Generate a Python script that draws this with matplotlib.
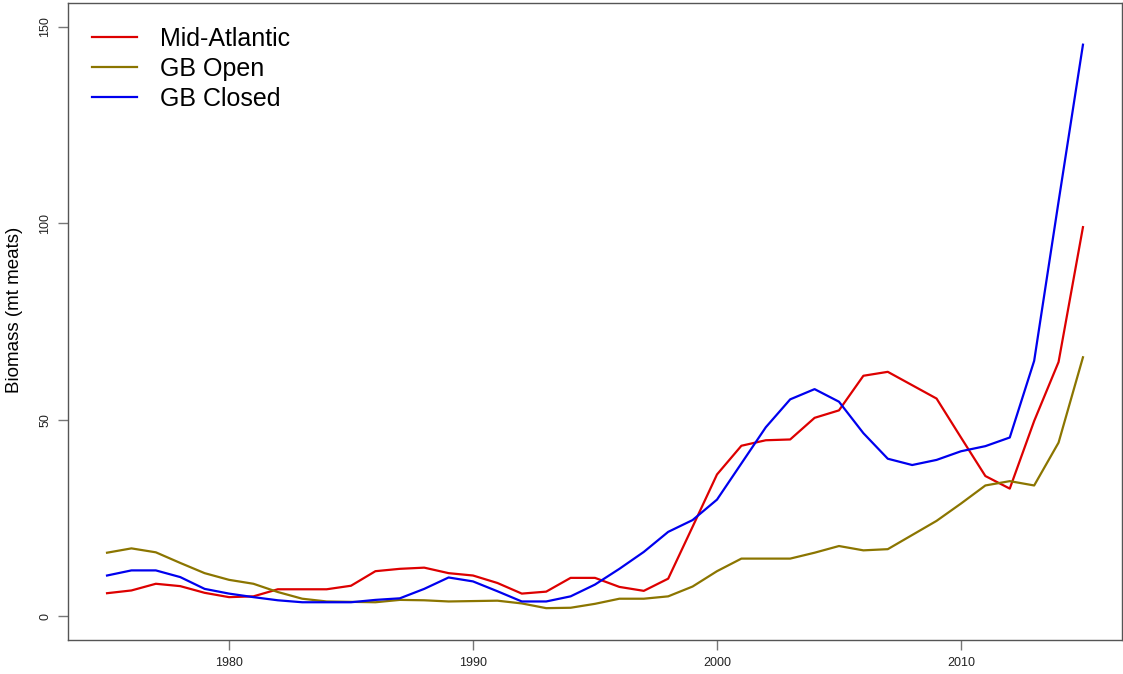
import matplotlib
matplotlib.use("Agg")
import matplotlib.pyplot as plt
import numpy as np

plt.rcParams['font.family'] = ['Liberation Sans', 'DejaVu Sans']

years = list(range(1975, 2016))

mid_atlantic = [5.9, 6.6, 8.3, 7.7, 6.0, 4.9, 5.1, 6.9, 6.9, 6.9,
                7.8, 11.5, 12.1, 12.4, 11.0, 10.4, 8.5, 5.8, 6.3, 9.8,
                9.8, 7.5, 6.5, 9.6, 22.8, 36.1, 43.4, 44.8, 45.0, 50.5,
                52.4, 61.2, 62.2, 58.8, 55.4, 45.5, 35.7, 32.5, 49.7, 64.7,
                99.0]

gb_open = [16.2, 17.3, 16.3, 13.6, 11.0, 9.3, 8.3, 6.2, 4.5, 3.8,
           3.7, 3.6, 4.2, 4.1, 3.8, 3.9, 4.0, 3.3, 2.1, 2.2,
           3.2, 4.5, 4.5, 5.1, 7.6, 11.5, 14.7, 14.7, 14.7, 16.2,
           17.9, 16.8, 17.1, 20.7, 24.3, 28.7, 33.3, 34.4, 33.3, 44.2,
           65.9]

gb_closed = [10.4, 11.7, 11.7, 10.0, 7.0, 5.8, 4.9, 4.1, 3.6, 3.6,
             3.6, 4.2, 4.6, 7.0, 9.9, 8.9, 6.4, 3.8, 3.8, 5.1,
             8.1, 12.1, 16.4, 21.5, 24.5, 29.7, 38.9, 48.1, 55.2, 57.8,
             54.6, 46.6, 40.1, 38.5, 39.8, 42.0, 43.3, 45.5, 65.0, 105.5,
             145.4]

series_names = ["Mid-Atlantic", "GB Open", "GB Closed"]
series_colors = ["#DD0000", "#8B7500", "#0000EE"]

x_ticks = [1980, 1990, 2000, 2010]
y_ticks = [0, 50, 100, 150]

W, H = 1123, 674
fig = plt.figure(figsize=(W / 100, H / 100), dpi=100)
ax_left, ax_bottom = 68, 34
ax_w, ax_h = 1122 - 68, 640 - 3
ax = fig.add_axes([ax_left / W, ax_bottom / H, ax_w / W, ax_h / H])

for vals, name, col in zip([mid_atlantic, gb_open, gb_closed], series_names, series_colors):
    ax.plot(years, vals, color=col, lw=1.6, label=name)

ax.set_xlim(1975 - 1.6, 2015 + 1.6)
ax.set_ylim(-6, 156)
ax.set_xticks(x_ticks)
ax.set_yticks(y_ticks)
ax.set_xticklabels([str(t) for t in x_ticks], fontsize=9, color="#222222")
ax.set_yticklabels([str(t) for t in y_ticks], fontsize=9, color="#222222",
                   rotation=90, va="center")
ax.tick_params(axis='both', direction='out', length=7, width=1, color="#777777", pad=5)
ax.tick_params(axis='x', pad=5)
for s in ax.spines.values():
    s.set_color("#555555")
    s.set_linewidth(1)

ax.set_ylabel("Biomass (mt meats)", fontsize=13.5)
ax.yaxis.set_label_coords(-(68 - 15) / ax_w, (640 - 310) / ax_h)
ax.yaxis.label.set_va("center")

leg = ax.legend(loc="upper left", bbox_to_anchor=(0.0228, 0.963), frameon=False,
                fontsize=18, handlelength=1.8, handletextpad=0.9,
                labelspacing=0.25, borderpad=0, borderaxespad=0)

fig.savefig("out.png", dpi=100)
